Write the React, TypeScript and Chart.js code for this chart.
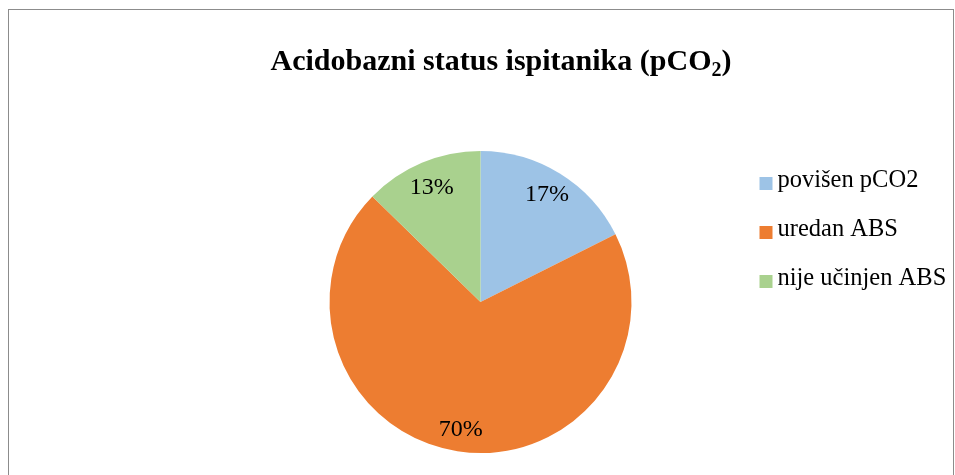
import React, { useEffect, useRef } from "react";
import { Chart, registerables } from "chart.js";

Chart.register(...registerables);

const categories = ["povišen pCO2", "uredan ABS", "nije učinjen ABS"];
const values = [17.6, 69.7, 12.7];
const percentLabels = ["17%", "70%", "13%"];
const colors = ["#9DC3E6", "#ED7D31", "#A9D18E"];
const titleMain = "Acidobazni status ispitanika (pCO";
const titleSub = "2";
const titleEnd = ")";

const FONT = '"Liberation Serif", "Times New Roman", serif';

const overlayPlugin = {
  id: "overlay",
  afterDraw(chart: any) {
    const ctx = chart.ctx as CanvasRenderingContext2D;
    ctx.save();
    ctx.fillStyle = "#000";

    // Title with subscript
    const big = `bold 30px ${FONT}`;
    const small = `bold 20px ${FONT}`;
    ctx.font = big;
    const w1 = ctx.measureText(titleMain).width;
    const w3 = ctx.measureText(titleEnd).width;
    ctx.font = small;
    const w2 = ctx.measureText(titleSub).width;
    const total = w1 + w2 + w3;
    const cx = 501;
    const baseY = 70;
    let x = cx - total / 2;
    ctx.textBaseline = "alphabetic";
    ctx.textAlign = "left";
    ctx.font = big;
    ctx.fillText(titleMain, x, baseY);
    x += w1;
    ctx.font = small;
    ctx.fillText(titleSub, x, baseY + 6);
    x += w2;
    ctx.font = big;
    ctx.fillText(titleEnd, x, baseY);

    // Percentage labels
    const meta = chart.getDatasetMeta(0);
    ctx.font = `24px ${FONT}`;
    ctx.textAlign = "center";
    ctx.textBaseline = "middle";
    const dist = [0.84, 0.85, 0.83];
    meta.data.forEach((arc: any, i: number) => {
      const mid = (arc.startAngle + arc.endAngle) / 2;
      const r = arc.outerRadius * dist[i];
      ctx.fillText(percentLabels[i], arc.x + Math.cos(mid) * r, arc.y + Math.sin(mid) * r + 1);
    });

    // Legend
    const legendX = 759.5;
    const legendY0 = 179;
    const step = 49;
    ctx.font = `24.5px ${FONT}`;
    ctx.textAlign = "left";
    ctx.textBaseline = "middle";
    categories.forEach((c, i) => {
      const y = legendY0 + i * step;
      ctx.fillStyle = colors[i];
      ctx.fillRect(legendX, y - 2, 13, 13);
      ctx.fillStyle = "#000";
      ctx.fillText(c, legendX + 18, y + 2);
    });
    ctx.restore();
  },
};

export default function App() {
  const ref = useRef<HTMLCanvasElement | null>(null);
  useEffect(() => {
    if (!ref.current) return;
    const chart = new Chart(ref.current, {
      type: "pie",
      data: {
        labels: categories,
        datasets: [
          {
            data: values,
            backgroundColor: colors,
            borderWidth: 0,
          },
        ],
      },
      options: {
        responsive: false,
        animation: false,
        devicePixelRatio: 1,
        layout: { padding: { top: 151, bottom: 22, left: 329.5, right: 323.5 } },
        plugins: {
          legend: { display: false },
          title: { display: false },
          tooltip: { enabled: false },
        },
      },
      plugins: [overlayPlugin],
    });
    return () => chart.destroy();
  }, []);
  return (
    <div
      style={{
        position: "fixed",
        left: 0,
        top: 0,
        width: 955,
        height: 475,
        overflow: "hidden",
        background: "#fff",
      }}
    >
      <div
        style={{
          position: "absolute",
          left: 8,
          top: 9,
          width: 946,
          height: 520,
          border: "1px solid #8c8c8c",
          boxSizing: "border-box",
        }}
      />
      <canvas
        ref={ref}
        width={955}
        height={475}
        style={{ position: "absolute", left: 0, top: 0 }}
      />
    </div>
  );
}
